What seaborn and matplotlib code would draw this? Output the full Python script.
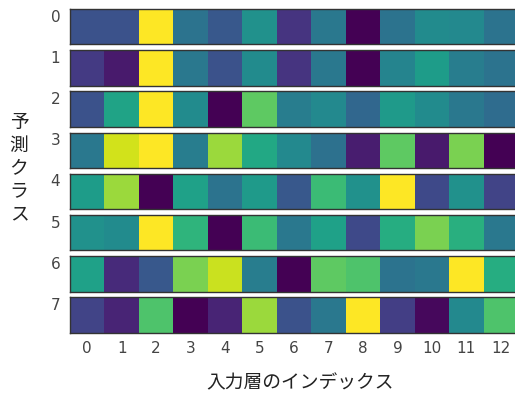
import numpy as np
import pandas as pd
import matplotlib
matplotlib.use("Agg")
import matplotlib.pyplot as plt
import seaborn as sns

sns.set_style("white")
plt.rcParams["font.family"] = ["Noto Sans CJK JP", "DejaVu Sans"]

# Input-layer indices (columns) and predicted classes (rows)
input_index = list(range(13))
classes = ["0", "1", "2", "3", "4", "5", "6", "7"]

# Per-class weight strength over the input indices (normalised per row)
class_0 = [0.25, 0.25, 1.00, 0.38, 0.27, 0.50, 0.15, 0.40, 0.00, 0.38, 0.48, 0.47, 0.38]
class_1 = [0.17, 0.07, 1.00, 0.40, 0.25, 0.48, 0.15, 0.40, 0.00, 0.45, 0.55, 0.42, 0.38]
class_2 = [0.25, 0.58, 1.00, 0.48, 0.00, 0.75, 0.42, 0.47, 0.33, 0.54, 0.48, 0.40, 0.35]
class_3 = [0.40, 0.93, 1.00, 0.42, 0.85, 0.60, 0.47, 0.37, 0.08, 0.75, 0.07, 0.80, 0.00]
class_4 = [0.55, 0.85, 0.00, 0.57, 0.38, 0.54, 0.27, 0.68, 0.50, 1.00, 0.22, 0.50, 0.20]
class_5 = [0.50, 0.48, 1.00, 0.65, 0.00, 0.68, 0.40, 0.57, 0.22, 0.62, 0.80, 0.63, 0.40]
class_6 = [0.57, 0.12, 0.27, 0.80, 0.92, 0.42, 0.00, 0.75, 0.72, 0.38, 0.40, 1.00, 0.62]
class_7 = [0.20, 0.10, 0.72, 0.00, 0.10, 0.85, 0.25, 0.40, 1.00, 0.18, 0.02, 0.47, 0.72]

rows = [class_0, class_1, class_2, class_3, class_4, class_5, class_6, class_7]

W, H = 515, 394
fig = plt.figure(figsize=(W / 100, H / 100), dpi=100)

left_px, right_px = 70, 518
top_px, step_px, height_px = 9, 41.2, 35.3

for i, (label, vals) in enumerate(zip(classes, rows)):
    y0 = top_px + i * step_px
    ax = fig.add_axes([left_px / W, 1 - (y0 + height_px) / H,
                       (right_px - left_px) / W, height_px / H])
    df = pd.DataFrame([vals], columns=input_index, index=[label])
    sns.heatmap(df, ax=ax, cmap="viridis", cbar=False, linewidths=0)
    for s in ax.spines.values():
        s.set_visible(True)
        s.set_color("#333333")
        s.set_linewidth(1.0)
    ax.set_yticks([0.23])
    ax.set_yticklabels([label], rotation=0, fontsize=11, color="#444444",
                       family="DejaVu Sans")
    ax.tick_params(axis="y", length=0, pad=7)
    ax.set_ylabel("")
    ax.set_xlabel("")
    if i < len(rows) - 1:
        ax.set_xticks([])
    else:
        ax.set_xticks(np.arange(len(input_index)) + 0.5)
        ax.set_xticklabels([str(c) for c in input_index], rotation=0,
                           fontsize=11, color="#444444", family="DejaVu Sans")
        ax.tick_params(axis="x", length=4, width=1, color="#555555", pad=2)

fig.text(300 / W, 1 - 383 / H, "入力層のインデックス", ha="center", va="center",
         fontsize=13.5, color="#222222")
fig.text(19 / W, 1 - 168 / H, "予\n測\nク\nラ\nス", ha="center", va="center",
         fontsize=13.5, color="#222222", linespacing=1.12)

fig.savefig("out.png", dpi=100)
